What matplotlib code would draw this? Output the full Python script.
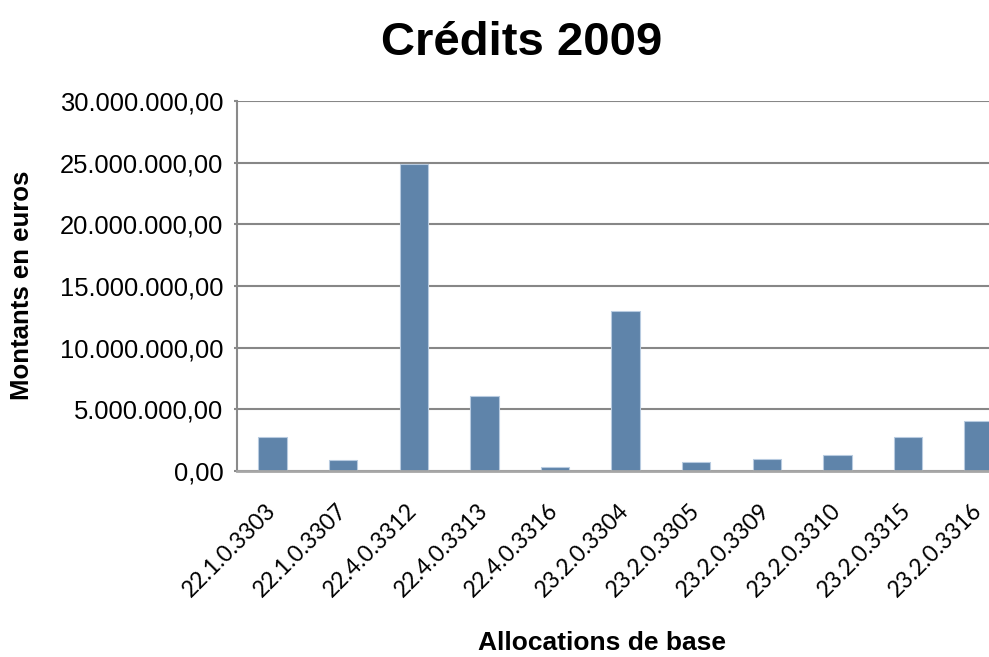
import matplotlib
matplotlib.use("Agg")
import matplotlib.pyplot as plt
from matplotlib.ticker import FuncFormatter, MultipleLocator

# Allocations de base and their credits (euros)
allocations = ["22.1.0.3303", "22.1.0.3307", "22.4.0.3312", "22.4.0.3313",
               "22.4.0.3316", "23.2.0.3304", "23.2.0.3305", "23.2.0.3309",
               "23.2.0.3310", "23.2.0.3315", "23.2.0.3316"]
montants = [2730000, 890000, 24870000, 6080000, 320000, 12970000,
            730000, 970000, 1320000, 2780000, 4050000]

y_max = 30000000
y_step = 5000000


def fr_format(v, pos):
    # 1.234.567,00 style
    s = "{:,.2f}".format(v)
    return s.replace(",", " ").replace(".", ",").replace(" ", ".")


fig = plt.figure(figsize=(9.89, 6.57), dpi=100)
ax = fig.add_axes([0.2399, 0.2831, 0.7853, 0.5632])

x = range(len(allocations))
ax.bar(x, montants, width=0.4, color="#5f84aa", edgecolor="#b8cbe0",
       linewidth=0.8, zorder=3)

ax.set_xlim(-0.5, len(allocations) - 0.5)
ax.set_ylim(0, y_max)
ax.yaxis.set_major_locator(MultipleLocator(y_step))
ax.yaxis.set_major_formatter(FuncFormatter(fr_format))
ax.grid(axis="y", color="#878787", linewidth=1.5, zorder=1)

for side in ["top", "right"]:
    ax.spines[side].set_visible(False)
ax.spines["left"].set_color("#8a8a8a")
ax.spines["left"].set_linewidth(1.5)
ax.spines["bottom"].set_color("#a6a6a6")
ax.spines["bottom"].set_linewidth(2)
ax.spines["bottom"].set_zorder(4)

ax.tick_params(axis="y", length=2, width=1.5, color="#8a8a8a", pad=8,
               labelsize=18.4)
for lbl in ax.get_yticklabels():
    lbl.set_fontfamily("Liberation Sans")

ax.set_xticks(list(x))
ax.set_xticklabels(allocations, rotation=45, ha="right", va="center",
                   rotation_mode="anchor", fontsize=16.5, family="Lato")
ax.tick_params(axis="x", length=0, pad=26)

fig.text(0.527, 0.916, "Crédits 2009", ha="center", va="baseline",
         fontsize=34, fontweight="bold", family="Liberation Sans")
fig.text(0.022, 0.565, "Montants en euros", ha="center", va="center",
         rotation=90, fontsize=18.5, fontweight="bold",
         family="Liberation Sans")
fig.text(0.609, 0.0107, "Allocations de base", ha="center", va="baseline",
         fontsize=19, fontweight="bold", family="Liberation Sans")

fig.savefig("out.png", dpi=100)
